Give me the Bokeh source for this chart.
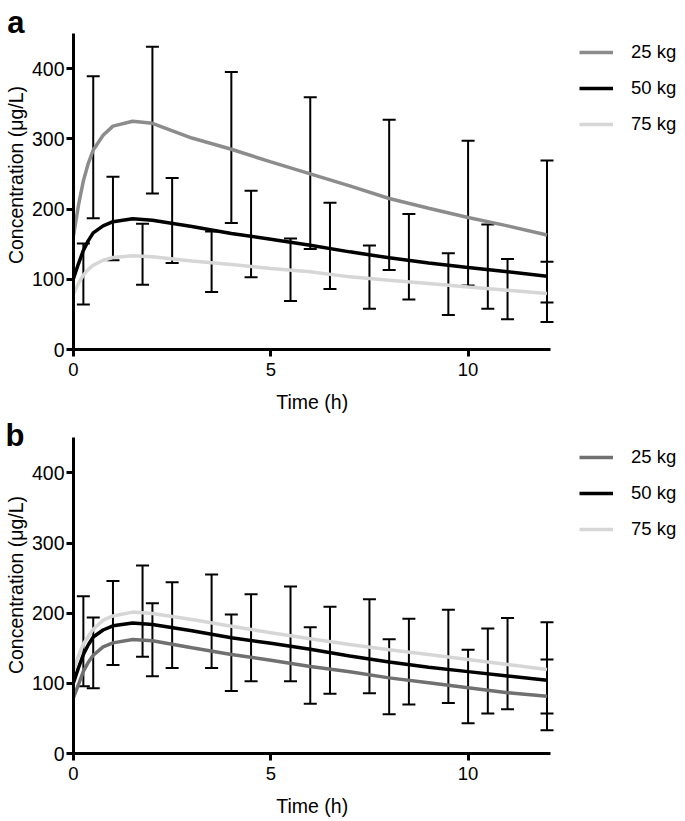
from bokeh.plotting import figure
from bokeh.models import (Range1d, FixedTicker, Legend, LegendItem, Whisker, TeeHead,
                          ColumnDataSource, LinearAxis)
from bokeh.layouts import column
from bokeh.embed import file_html
from bokeh.resources import INLINE

FONT = "Liberation Sans"

# ---- data ----
time_curve = [0, 0.125, 0.25, 0.375, 0.5, 0.75, 1, 1.5, 2, 3, 4, 5, 6, 7, 8, 9, 10, 11, 12]

a_25kg = [162, 205, 240, 265, 284, 305, 318, 325, 322, 301, 285, 267, 250, 233, 215, 201, 188, 176, 163]
a_50kg = [101, 122, 141, 155, 166, 176, 182, 186, 184, 175, 165, 157, 148.5, 139, 130.5, 123, 116.7, 110.6, 104.4]
a_75kg = [79, 94, 106, 114, 120, 127, 131, 133.5, 132, 126, 121, 115.3, 110.6, 103.4, 98.7, 94, 89, 84.5, 79.7]

b_25kg = [80, 98, 117, 130, 140, 152, 157.7, 162.5, 160.6, 150.6, 141, 133, 124, 116.4, 107.8, 100.7, 93.6, 86.5, 81.7]
b_50kg = a_50kg
b_75kg = [118, 139, 156, 167, 177, 190, 196, 201.5, 199.5, 191, 181.5, 172, 163.4, 155.3, 148, 141, 134, 126.8, 119.7]

a_bar_t  = [0.25, 0.5, 1, 1.75, 2, 2.5, 3.5, 4, 4.5, 5.5, 6, 6.5, 7.5, 8, 8.5, 9.5, 10, 10.5, 11, 12, 12]
a_bar_lo = [64, 187, 127, 92, 222, 123, 82, 180, 103, 69, 143, 86, 58, 113, 71, 49, 91, 58, 43, 67, 39]
a_bar_hi = [151, 389, 246, 179, 431, 244, 168, 395, 226, 158, 359, 209, 148, 327, 193, 137, 297, 178, 129, 269, 125]

b_bar_t  = [0.25, 0.5, 1, 1.75, 2, 2.5, 3.5, 4, 4.5, 5.5, 6, 6.5, 7.5, 8, 8.5, 9.5, 10, 10.5, 11, 12, 12]
b_bar_lo = [96, 93, 126, 138, 110, 122, 122, 89, 103, 103, 71, 85, 86, 56, 70, 72, 43, 57, 63, 57, 33]
b_bar_hi = [224, 194, 246, 268, 214, 244, 255, 198, 227, 238, 180, 209, 220, 163, 192, 205, 148, 178, 193, 187, 134]

labels = ["25 kg", "50 kg", "75 kg"]
x_ticks = [0, 5, 10]
y_ticks = [0, 100, 200, 300, 400]
x_title = "Time (h)"
y_title = "Concentration (μg/L)"

X_AXIS_END = 12.1     # drawn extent of the time axis
Y_AXIS_END = 450      # drawn extent of the concentration axis
X_VIEW_END = 15.51    # plotting area runs on to the right edge, where the legend sits
X_TITLE_POS = X_AXIS_END / 2


def make_panel(letter, letter_pos, c25, c50, c75, bt, blo, bhi, col25, height, y_view_end, leg_vy):
    p = figure(width=685, height=height, x_range=Range1d(0, X_VIEW_END),
               y_range=Range1d(0, y_view_end),
               output_backend="svg", toolbar_location=None,
               min_border_left=73, min_border_right=0,
               min_border_top=0, min_border_bottom=67)
    p.outline_line_color = None
    p.xgrid.visible = False
    p.ygrid.visible = False
    p.background_fill_color = None
    p.border_fill_color = "white"

    r25 = p.line(time_curve, c25, line_color=col25, line_width=3.5)
    r50 = p.line(time_curve, c50, line_color="black", line_width=3.5)
    r75 = p.line(time_curve, c75, line_color="#d6d6d6", line_width=3.5)

    src = ColumnDataSource(dict(t=bt, lo=blo, hi=bhi))
    w = Whisker(source=src, base="t", lower="lo", upper="hi", line_width=2, line_color="black",
                upper_head=TeeHead(size=13, line_width=2, line_color="black"),
                lower_head=TeeHead(size=13, line_width=2, line_color="black"))
    p.add_layout(w)

    for ax in (p.xaxis[0], p.yaxis[0]):
        ax.axis_line_width = 3
        ax.axis_line_color = "black"
        ax.major_tick_line_width = 3
        ax.major_tick_line_color = "black"
        ax.major_tick_out = 7
        ax.major_tick_in = 0
        ax.minor_tick_line_color = None
        ax.major_label_text_font = FONT
        ax.major_label_text_color = "black"
        ax.axis_label_text_font = FONT
        ax.axis_label_text_font_size = "19.5px"
        ax.axis_label_text_font_style = "normal"
        ax.axis_label_text_color = "black"
    p.xaxis.major_label_text_font_size = "18.5px"
    p.yaxis.major_label_text_font_size = "19.5px"
    p.xaxis.ticker = FixedTicker(ticks=x_ticks)
    p.yaxis.ticker = FixedTicker(ticks=y_ticks)
    p.xaxis.bounds = (0, X_AXIS_END)
    p.yaxis.bounds = (0, Y_AXIS_END)
    p.yaxis.axis_label = y_title
    p.xaxis.major_label_standoff = 6
    p.yaxis.major_label_standoff = 2
    p.yaxis.axis_label_standoff = 2

    # x title, centred under the drawn part of the time axis
    xt = LinearAxis(ticker=FixedTicker(ticks=[X_TITLE_POS]),
                    major_label_overrides={X_TITLE_POS: x_title},
                    axis_line_color=None, major_tick_line_color=None,
                    minor_tick_line_color=None, major_tick_out=0, major_tick_in=0,
                    minor_tick_out=0, major_label_standoff=12,
                    major_label_text_font=FONT, major_label_text_font_size="19.5px",
                    major_label_text_color="black")
    p.add_layout(xt, "below")

    # panel letter, at the far left
    tag = LinearAxis(ticker=FixedTicker(ticks=[letter_pos]),
                     major_label_overrides={letter_pos: letter},
                     axis_line_color=None, major_tick_line_color=None,
                     minor_tick_line_color=None, major_tick_out=0, major_tick_in=0,
                     minor_tick_out=0, major_label_standoff=-23,
                     major_label_text_font=FONT, major_label_text_font_size="31px",
                     major_label_text_font_style="bold", major_label_text_color="black")
    p.add_layout(tag, "left")

    legend = Legend(items=[LegendItem(label=labels[0], renderers=[r25]),
                           LegendItem(label=labels[1], renderers=[r50]),
                           LegendItem(label=labels[2], renderers=[r75])],
                    location=(506, leg_vy), orientation="vertical",
                    glyph_width=34, glyph_height=30, label_height=30,
                    label_standoff=18, spacing=6, padding=0, margin=0,
                    border_line_alpha=0, background_fill_alpha=0,
                    label_text_font=FONT, label_text_font_size="18.5px",
                    label_text_color="black")
    p.add_layout(legend)
    return p


pa = make_panel("a", 465, a_25kg, a_50kg, a_75kg, a_bar_t, a_bar_lo, a_bar_hi, "#8c8c8c",
                416, 496.8, 210)
pb = make_panel("b", 457, b_25kg, b_50kg, b_75kg, b_bar_t, b_bar_lo, b_bar_hi, "#707070",
                404, 480.3, 209)

layout = column(pa, pb, spacing=0)
open("out.html", "w").write(file_html(layout, INLINE))
